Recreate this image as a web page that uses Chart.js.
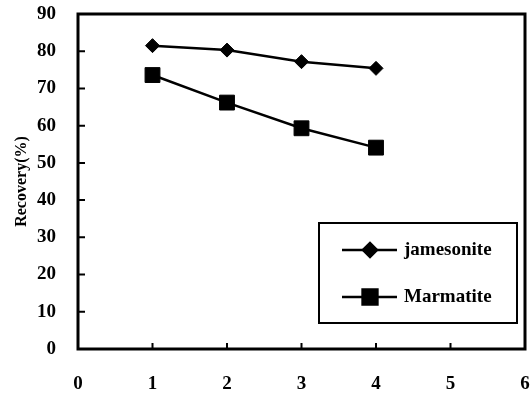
<!DOCTYPE html>
<html>
<head>
<meta charset="utf-8">
<script src="https://cdn.jsdelivr.net/npm/chart.js@4/dist/chart.umd.min.js"></script>
<style>
  html, body { margin: 0; padding: 0; background: #fff; }
  #wrap { width: 531px; height: 394px; }
</style>
</head>
<body>
<div id="wrap"><canvas id="recoveryChart" width="531" height="394"></canvas></div>
<script>
// data
const stages = [1, 2, 3, 4];
const jamesonite = [81.5, 80.3, 77.2, 75.4];
const marmatite = [73.6, 66.2, 59.3, 54.1];
const seriesNames = ['jamesonite', 'Marmatite'];
const yTitle = 'Recovery(%)';

const serif = '"Liberation Serif", "Times New Roman", serif';

function toPoints(values) {
    return stages.map(function(s, i) { return { x: s, y: values[i] }; });
}

// frame + inward tick marks
const framePlugin = {
    id: 'frame',
    beforeDatasetsDraw: function(chart) {
        const ctx = chart.ctx;
        const a = chart.chartArea;
        const xs = chart.scales.x;
        const ys = chart.scales.y;
        ctx.save();
        ctx.strokeStyle = '#000';
        ctx.lineWidth = 2;
        ctx.beginPath();
        ys.ticks.forEach(function(t) {
            const py = ys.getPixelForValue(t.value);
            ctx.moveTo(a.left, py);
            ctx.lineTo(a.left + 7, py);
        });
        xs.ticks.forEach(function(t) {
            const px = xs.getPixelForValue(t.value);
            ctx.moveTo(px, a.bottom);
            ctx.lineTo(px, a.bottom - 6);
        });
        ctx.stroke();
        ctx.lineWidth = 3;
        ctx.strokeRect(a.left, a.top, a.right - a.left, a.bottom - a.top);
        ctx.restore();
    }
};

// boxed legend like the original figure
const boxLegendPlugin = {
    id: 'boxLegend',
    afterDraw: function(chart) {
        const ctx = chart.ctx;
        const a = chart.chartArea;
        const left = a.left + 241, top = a.top + 209;
        const w = 198, h = 100;
        ctx.save();
        ctx.fillStyle = '#fff';
        ctx.fillRect(left, top, w, h);
        ctx.strokeStyle = '#000';
        ctx.lineWidth = 2;
        ctx.strokeRect(left, top, w, h);
        chart.data.datasets.forEach(function(ds, i) {
            const cy = top + 27 + i * 47;
            ctx.lineWidth = ds.borderWidth;
            ctx.strokeStyle = ds.borderColor;
            ctx.beginPath();
            ctx.moveTo(left + 23, cy);
            ctx.lineTo(left + 78, cy);
            ctx.stroke();
            ctx.fillStyle = '#000';
            Chart.helpers.drawPoint(ctx, {
                pointStyle: ds.pointStyle,
                radius: ds.pointRadius,
                rotation: 0,
                borderWidth: 1
            }, left + 51, cy);
            ctx.fillStyle = '#000';
            ctx.font = 'bold 19px ' + serif;
            ctx.textBaseline = 'middle';
            ctx.textAlign = 'left';
            ctx.fillText(ds.label, left + 85, cy);
        });
        ctx.restore();
    }
};

const ctx = document.getElementById('recoveryChart').getContext('2d');
const recoveryChart = new Chart(ctx, {
    type: 'line',
    data: {
        datasets: [
            {
                label: seriesNames[0],
                data: toPoints(jamesonite),
                borderColor: '#000',
                backgroundColor: '#000',
                borderWidth: 2.5,
                pointStyle: 'rectRot',
                pointRadius: 7,
                pointBorderWidth: 1,
                pointBackgroundColor: '#000',
                pointBorderColor: '#000'
            },
            {
                label: seriesNames[1],
                data: toPoints(marmatite),
                borderColor: '#000',
                backgroundColor: '#000',
                borderWidth: 2.5,
                pointStyle: 'rect',
                pointRadius: 10.5,
                pointBorderWidth: 1,
                pointBackgroundColor: '#000',
                pointBorderColor: '#000'
            }
        ]
    },
    options: {
        responsive: false,
        animation: false,
        layout: {
            autoPadding: false,
            padding: { left: 0, top: 14, right: 6, bottom: 0 }
        },
        plugins: {
            legend: { display: false },
            tooltip: { enabled: false }
        },
        scales: {
            x: {
                type: 'linear',
                min: 0,
                max: 6,
                border: { display: false },
                grid: { display: false, drawTicks: false },
                ticks: {
                    stepSize: 1,
                    padding: 24,
                    color: '#000',
                    font: { family: serif, size: 19, weight: 'bold' }
                },
                afterFit: function(scale) {
                    scale.height = 45;
                    scale.paddingLeft = 0;
                    scale.paddingRight = 0;
                }
            },
            y: {
                min: 0,
                max: 90,
                border: { display: false },
                grid: { display: false, drawTicks: false },
                ticks: {
                    stepSize: 10,
                    padding: 22,
                    color: '#000',
                    font: { family: serif, size: 19, weight: 'bold' }
                },
                title: {
                    display: true,
                    text: yTitle,
                    color: '#000',
                    padding: { top: 12, bottom: 0 },
                    font: { family: serif, size: 16, weight: 'bold' }
                },
                afterFit: function(scale) {
                    scale.width = 78;
                    scale.paddingTop = 0;
                    scale.paddingBottom = 0;
                }
            }
        }
    },
    plugins: [framePlugin, boxLegendPlugin]
});
</script>
</body>
</html>
